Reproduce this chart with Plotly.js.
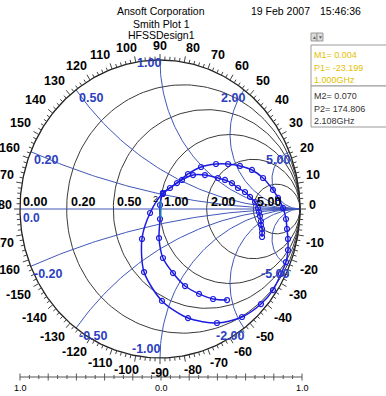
<!DOCTYPE html>
<html><head><meta charset="utf-8">
<script src="https://cdn.plot.ly/plotly-3.0.1.min.js"></script>
<style>html,body{margin:0;padding:0;background:#fff;overflow:hidden}</style>
</head><body><div id="chart" style="width:386px;height:396px"></div>
<script>
// ---------------- data (reflection coefficient, real / imaginary) ----------------
const curve1Re = [0.729,0.729,0.729,0.721,0.721,0.714,0.707,0.700,0.679,0.643,0.607,0.557,0.514,0.464,0.414,0.321,0.236,0.157,0.071,0.021,0.000,0.000,-0.007,0.021,0.093,0.179,0.279,0.379,0.479];
const curve1Im = [-0.188,-0.161,-0.134,-0.107,-0.081,-0.047,-0.020,0.007,0.047,0.081,0.114,0.141,0.174,0.195,0.208,0.228,0.228,0.195,0.141,0.101,0.027,-0.067,-0.195,-0.329,-0.430,-0.517,-0.570,-0.604,-0.611];
const curve2Re = [0.021,-0.071,-0.129,-0.114,0.014,0.200,0.407,0.586,0.721,0.807,0.864,0.900,0.914,0.914,0.907,0.900,0.879,0.843,0.807,0.736,0.657,0.571,0.486,0.400,0.293,0.200,0.121,0.021];
const curve2Im = [0.107,-0.027,-0.201,-0.423,-0.617,-0.732,-0.765,-0.725,-0.638,-0.544,-0.436,-0.356,-0.275,-0.201,-0.134,-0.067,0.007,0.074,0.128,0.208,0.262,0.289,0.302,0.302,0.282,0.235,0.174,0.107];

const resistanceValues = [0.2, 0.5, 1, 2, 5];
const resistanceLabels = ["0.00", "0.20", "0.50", "1.00", "2.00", "5.00"];
const reactanceValues = [0.2, 0.5, 1, 2, 5, -0.2, -0.5, -1, -2, -5];
const reactanceLabels = ["0.20", "0.50", "1.00", "2.00", "5.00", "-0.20", "-0.50", "-1.00", "-2.00", "-5.00"];
const angleLabels = [0,10,20,30,40,50,60,70,80,90,100,110,120,130,140,150,160,170,180,-170,-160,-150,-140,-130,-120,-110,-100,-90,-80,-70,-60,-50,-40,-30,-20,-10];
const scaleLabels = ["1.0", "0.0", "1.0"];

const markerNames = ["M1", "M2"];
const markerMag = [0.004, 0.070];
const markerPhase = [-23.199, 174.806];
const markerFreq = ["1.000GHz", "2.108GHz"];

const titleLines = ["Ansoft Corporation", "Smith Plot 1", "HFSSDesign1"];
const dateText = "19 Feb 2007";
const timeText = "15:46:36";

// ---------------- geometry ----------------
const W = 386, H = 396, CX = 160, CY = 209, RX = 140, RY = 149;
const gx = px => (px - CX) / RX;
const gy = py => (CY - py) / RY;
const pxX = g => CX + g * RX;
const pxY = g => CY - g * RY;

const FONT = 'Arial, "Liberation Sans", sans-serif';
const NARROW = '"Liberation Sans Narrow", "Arial Narrow", "Liberation Sans", Arial, sans-serif';
const BLUE_LBL = '#2b3fbf';
const GRID_BLUE = '#4157b8';
const GRID_BLACK = '#3a3a3a';
const CURVE = '#1c1ce0';

const traces = [];
const annotations = [];
const shapes = [];

function A(px, py, text, opt) {
  opt = opt || {};
  annotations.push({
    x: gx(px), y: gy(py), xref: 'x', yref: 'y', text: text, showarrow: false,
    xanchor: opt.xanchor || 'center', yanchor: opt.yanchor || 'middle',
    borderpad: 0,
    font: { family: opt.family || FONT, size: opt.size || 12.5, color: opt.color || '#000' }
  });
}
function lineTrace(xs, ys, color, width) {
  traces.push({ type: 'scatter', mode: 'lines', x: xs, y: ys, hoverinfo: 'skip', showlegend: false,
    line: { color: color, width: width } });
}

// resistance circles
resistanceValues.forEach(r => {
  const c = r / (1 + r), rad = 1 / (1 + r), xs = [], ys = [];
  for (let t = 0; t <= 360; t += 2) { xs.push(c + rad * Math.cos(t * Math.PI / 180)); ys.push(rad * Math.sin(t * Math.PI / 180)); }
  lineTrace(xs, ys, GRID_BLACK, 1);
});

// reactance arcs
reactanceValues.forEach(xv => {
  const a = Math.abs(xv), rad = 1 / a;
  const ex = (a * a - 1) / (a * a + 1), ey = 2 * a / (a * a + 1);
  let phi0 = Math.atan2(ey - rad, ex - 1);
  if (phi0 < Math.PI / 2) phi0 += 2 * Math.PI;
  const phi1 = 1.5 * Math.PI, xs = [], ys = [];
  const n = 80;
  for (let i = 0; i <= n; i++) {
    const p = phi0 + (phi1 - phi0) * i / n;
    xs.push(1 + rad * Math.cos(p));
    ys.push((rad + rad * Math.sin(p)) * Math.sign(xv));
  }
  lineTrace(xs, ys, GRID_BLUE, 1);
});

// real axis
lineTrace([-1, 1], [0, 0], GRID_BLUE, 1);

// outer circle
(function () {
  const xs = [], ys = [];
  for (let t = 0; t <= 360; t += 1) { xs.push(Math.cos(t * Math.PI / 180)); ys.push(Math.sin(t * Math.PI / 180)); }
  lineTrace(xs, ys, '#222', 1.3);
})();

// outer ticks
(function () {
  const xs = [], ys = [];
  for (let t = 0; t < 360; t += 2) {
    const len = (t % 10 === 0) ? 6 : 3.5;
    const c = Math.cos(t * Math.PI / 180), s = Math.sin(t * Math.PI / 180);
    xs.push(c, c * (RX + len) / RX, null);
    ys.push(s, s * (RY + len) / RY, null);
  }
  lineTrace(xs, ys, '#444', 1);
})();

// angle labels
angleLabels.forEach(a => {
  const rad = a * Math.PI / 180;
  const c = Math.abs(Math.cos(rad)) < 1e-9 ? 0 : Math.cos(rad);
  const s = Math.abs(Math.sin(rad)) < 1e-9 ? 0 : Math.sin(rad);
  const str = String(a);
  const w = 7 * str.replace('-', '').length + (a < 0 ? 4.2 : 0);
  const g = 8.5;
  const px = CX + (RX + g) * c + (w / 2) * c + 6 * Math.sign(c) * s * s;
  const py = CY - (RY + g) * s - 6 * s - (s === 0 ? 4 : 6 * Math.sign(s) * c * c);
  A(px, py, '<b>' + str + '</b>', { size: 12.5 });
});

// resistance labels
[0].concat(resistanceValues).forEach((r, i) => {
  const p = pxX((r - 1) / (r + 1));
  A(p + (i === 0 ? 2 : 3), 202, '<b>' + resistanceLabels[i] + '</b>', { xanchor: 'left', size: 12.5 });
});
A(22, 218, '<b>0.0</b>', { xanchor: 'left', color: BLUE_LBL, size: 12 });

// reactance labels
reactanceValues.forEach((xv, i) => {
  const ex = (xv * xv - 1) / (xv * xv + 1), ey = 2 * xv / (xv * xv + 1);
  const px = pxX(ex), py = pxY(ey);
  let dy = 8;
  if (xv === 1) dy = 3;
  if (xv === -1) dy = -9;
  if (Math.abs(xv) < 1) A(px + 2, py + dy, '<b>' + reactanceLabels[i] + '</b>', { xanchor: 'left', color: BLUE_LBL });
  else A(px + 2, py + dy, '<b>' + reactanceLabels[i] + '</b>', { xanchor: 'right', color: BLUE_LBL });
});

// data curves
[[curve1Re, curve1Im], [curve2Re, curve2Im]].forEach(cv => {
  traces.push({ type: 'scatter', mode: 'lines+markers', x: cv[0], y: cv[1], hoverinfo: 'skip', showlegend: false,
    line: { color: CURVE, width: 1.5, shape: 'spline', smoothing: 0.8 },
    marker: { symbol: 'circle-open', size: 5, color: CURVE, line: { width: 1.2, color: CURVE } } });
});

// markers M1 / M2
const mRe = markerMag.map((m, i) => m * Math.cos(markerPhase[i] * Math.PI / 180));
const mIm = markerMag.map((m, i) => m * Math.sin(markerPhase[i] * Math.PI / 180));
traces.push({ type: 'scatter', mode: 'markers', x: [mRe[0]], y: [mIm[0]], hoverinfo: 'skip', showlegend: false,
  marker: { symbol: 'line-ns-open', size: 12, line: { width: 2, color: '#f0a020' } } });
annotations.push({ x: mRe[1], y: mIm[1], xref: 'x', yref: 'y', text: '2', showarrow: false, xanchor: 'left', yanchor: 'middle',
  yshift: 9, xshift: 1, font: { family: FONT, size: 9, color: '#000' } });

// bottom scale
(function () {
  const y = 377, left = 20, right = 302, mid = 161, half = 141;
  lineTrace([gx(left), gx(right)], [gy(y), gy(y)], '#555', 1);
  const xs = [], ys = [];
  for (let k = -15; k <= 15; k++) {
    const px = mid + k * half / 15;
    const h = (k % 3 === 0) ? 3.5 : 2;
    xs.push(gx(px), gx(px), null); ys.push(gy(y - h), gy(y + h), null);
  }
  lineTrace(xs, ys, '#555', 1);
  A(left, 388, scaleLabels[0], { size: 9 });
  A(mid, 388, scaleLabels[1], { size: 9 });
  A(right, 388, scaleLabels[2], { size: 9 });
})();

// header
A(161, 10.5, titleLines[0], { size: 10.5 });
A(161, 23.5, titleLines[1], { size: 10.5 });
A(161, 35, titleLines[2], { size: 10.5 });
A(280, 10.5, dateText, { size: 10.5 });
A(340, 10.5, timeText, { size: 10.5 });

// marker readout boxes
function rectPx(x0, y0, x1, y1, line, fill) {
  shapes.push({ type: 'rect', xref: 'x', yref: 'y', x0: gx(x0), x1: gx(x1), y0: gy(y0), y1: gy(y1),
    line: { color: line, width: 1 }, fillcolor: fill, layer: 'above' });
}
rectPx(311, 45, 392, 86, '#9a9a9a', 'rgba(255,255,255,1)');
rectPx(311, 86, 392, 127, '#9a9a9a', 'rgba(255,255,255,1)');
rectPx(311, 33, 317, 41, '#999', '#dcdcdc');
rectPx(317, 33, 323, 41, '#999', '#dcdcdc');
A(314, 37, '▲', { size: 5, color: '#666' });
A(320, 37, '▼', { size: 5, color: '#666' });
const boxColors = ['#e3c000', '#333333'];
markerNames.forEach((nm, i) => {
  const base = i === 0 ? 55 : 96;
  A(313, base, nm + '= ' + markerMag[i].toFixed(3), { xanchor: 'left', size: 9, family: NARROW, color: boxColors[i] });
  A(313, base + 12.5, 'P' + (i + 1) + '= ' + markerPhase[i].toFixed(3), { xanchor: 'left', size: 9, family: NARROW, color: boxColors[i] });
  A(313, base + 25, markerFreq[i], { xanchor: 'left', size: 9, family: NARROW, color: boxColors[i] });
});

const layout = {
  width: W, height: H, autosize: false,
  margin: { l: 0, r: 0, t: 0, b: 0, pad: 0 },
  paper_bgcolor: '#fff', plot_bgcolor: '#fff', showlegend: false,
  xaxis: { range: [gx(0), gx(W)], visible: false, fixedrange: true },
  yaxis: { range: [gy(H), gy(0)], visible: false, fixedrange: true },
  annotations: annotations, shapes: shapes
};
Plotly.newPlot('chart', traces, layout, { staticPlot: true, displayModeBar: false });
</script></body></html>
